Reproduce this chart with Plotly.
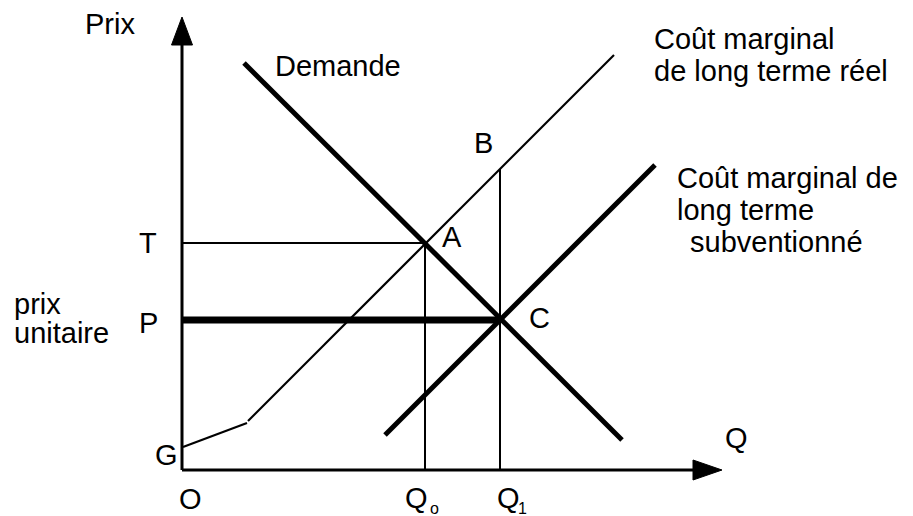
import plotly.graph_objects as go

# Diagram coordinates (quantity, price); origin O at the axes corner
demand_q = [62, 440]
demand_p = [407, 30]

real_mc_low_q = [1, 65]
real_mc_low_p = [23, 47]
real_mc_q = [66, 432]
real_mc_p = [49, 415]

sub_mc_q = [203, 473]
sub_mc_p = [35, 305]

point_A = (243, 227)
point_C = (318, 150)
point_B = (318, 301)

y_axis_top = 425
x_axis_end = 511

FONT = "Liberation Sans, Arial, Helvetica, sans-serif"
FS = 29

fig = go.Figure()

def line(xs, ys, w):
    fig.add_trace(go.Scatter(x=xs, y=ys, mode="lines",
                             line=dict(color="black", width=w),
                             hoverinfo="skip", showlegend=False))

def tri(xs, ys):
    fig.add_trace(go.Scatter(x=xs, y=ys, mode="lines", fill="toself",
                             fillcolor="black", line=dict(color="black", width=1),
                             hoverinfo="skip", showlegend=False))

# axes
line([0, 0], [0, y_axis_top], 3)
line([0, x_axis_end], [0, 0], 3)
tri([-10.5, 10.5, 0, -10.5], [y_axis_top, y_axis_top, y_axis_top + 28, y_axis_top])
tri([x_axis_end, x_axis_end, x_axis_end + 29, x_axis_end], [-10, 10, 0, -10])

# guide lines
line([0, point_A[0]], [point_A[1], point_A[1]], 2)
line([point_A[0], point_A[0]], [0, point_A[1]], 2)
line([point_B[0], point_B[0]], [0, point_B[1]], 2)
line([0, point_C[0]], [point_C[1], point_C[1]], 7)

# curves
line(real_mc_low_q, real_mc_low_p, 2.2)
line(real_mc_q, real_mc_p, 2.2)
line(demand_q, demand_p, 5)
line(sub_mc_q, sub_mc_p, 5)

labels = [
    ("Prix", -99, 446, FS),
    ("Demande", 91, 404, FS),
    ("Coût marginal", 470, 431, FS),
    ("de long terme réel", 470, 399, FS),
    ("Coût marginal de", 493, 292, FS),
    ("long terme", 493, 260, FS),
    ("subventionné", 506, 228, FS),
    ("T", -45, 227, FS),
    ("A", 258, 233, FS),
    ("B", 290, 327, FS),
    ("C", 345, 152, FS),
    ("P", -45, 147, FS),
    ("prix", -170, 166, FS),
    ("unitaire", -170, 137, FS),
    ("G", -29, 15, FS),
    ("O", -5, -29, FS),
    ("Q", 221, -28, FS),
    ("Q", 313, -28, FS),
    ("Q", 541, 32, FS),
    ("o", 246, -38, 16),
    ("1", 334, -38, 16),
]
for txt, x, y, s in labels:
    fig.add_annotation(x=x, y=y, text=txt, showarrow=False, xanchor="left",
                       yanchor="middle", font=dict(family=FONT, size=s, color="black"))

fig.update_layout(
    width=913, height=516, autosize=False,
    margin=dict(l=0, r=0, t=0, b=0),
    plot_bgcolor="white", paper_bgcolor="white",
    xaxis=dict(range=[-182, 731], visible=False, fixedrange=True),
    yaxis=dict(range=[-46, 470], visible=False, fixedrange=True),
)

fig.write_html("out.html", config={"displayModeBar": False},
               post_script="document.body.style.margin='0px';document.body.style.overflow='hidden';")
